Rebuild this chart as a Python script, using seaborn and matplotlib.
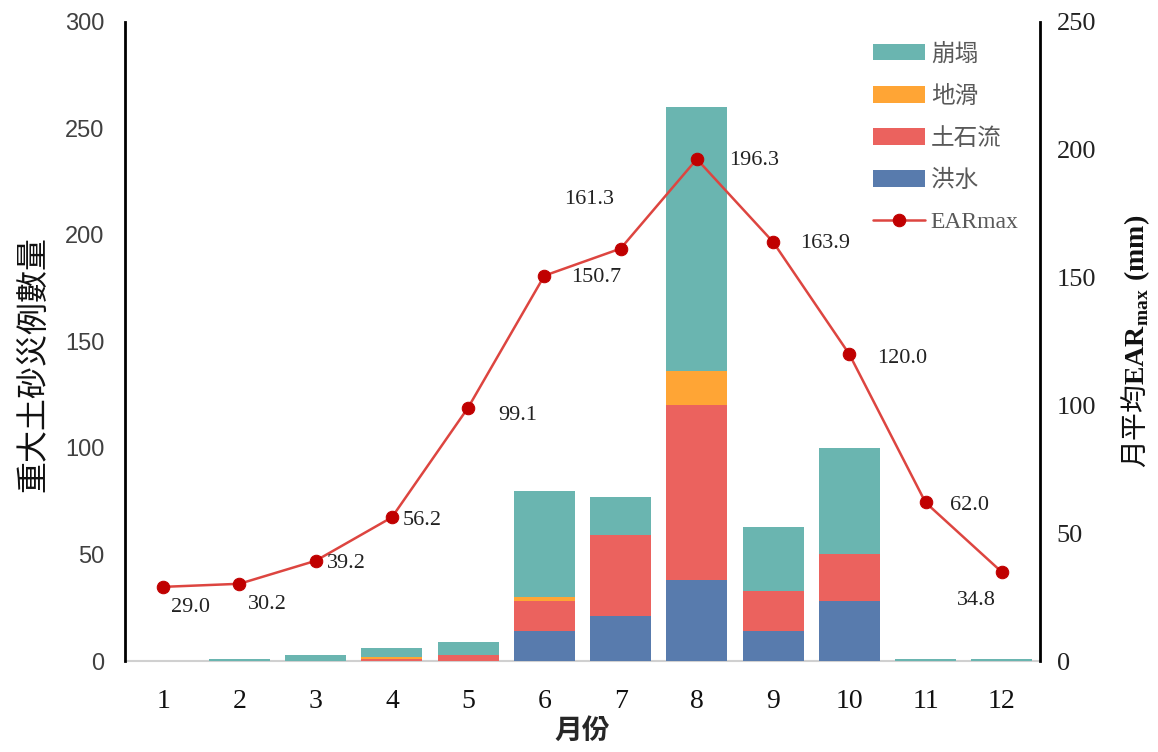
import matplotlib
matplotlib.use('Agg')
import matplotlib.pyplot as plt
import seaborn as sns
import pandas as pd
import numpy as np

# data
months = ['1', '2', '3', '4', '5', '6', '7', '8', '9', '10', '11', '12']
flood = [0, 0, 0, 0, 0, 14, 21, 38, 14, 28, 0, 0]        # 洪水
debris = [0, 0, 0, 1, 3, 14, 38, 82, 19, 22, 0, 0]       # 土石流
landslide = [0, 0, 0, 1, 0, 2, 0, 16, 0, 0, 0, 0]        # 地滑
collapse = [0, 1, 3, 4, 6, 50, 18, 124, 30, 50, 1, 1]    # 崩塌
ear_max = [29.0, 30.2, 39.2, 56.2, 99.1, 150.7, 161.3, 196.3, 163.9, 120.0, 62.0, 34.8]

# label offsets in pixels (dx, dy) for the EARmax values
lbl_off = [(27, -21), (28, -21), (31, -3), (30, -3), (50, -8), (52, -2),
           (-31, 49), (57, -1), (52, -2), (53, -4), (44, -3), (-25, -28)]

c_col = '#6AB5B0'
c_land = '#FFA535'
c_deb = '#EB625E'
c_flood = '#587BAD'
c_line = '#DD4540'
c_mark = '#C00000'

sns.set_style('white')
plt.rcParams['font.family'] = ['Liberation Serif', 'Noto Sans CJK TC', 'DejaVu Sans']
plt.rcParams['mathtext.fontset'] = 'custom'
plt.rcParams['mathtext.rm'] = 'Liberation Serif'
plt.rcParams['mathtext.bf'] = 'Liberation Serif:bold'

df = pd.DataFrame({'month': months, 'flood': flood, 'debris': debris,
                   'landslide': landslide, 'collapse': collapse})
df['l1'] = df['flood']
df['l2'] = df['l1'] + df['debris']
df['l3'] = df['l2'] + df['landslide']
df['l4'] = df['l3'] + df['collapse']

fig = plt.figure(figsize=(11.58, 7.52), dpi=100)
ax = fig.add_axes([0.108, 0.121, 0.790, 0.850])

# stacked bars: draw cumulative totals from the top layer down
for col, color, name in [('l4', c_col, '崩塌'), ('l3', c_land, '地滑'),
                         ('l2', c_deb, '土石流'), ('l1', c_flood, '洪水')]:
    sns.barplot(data=df, x='month', y=col, color=color, ax=ax, width=0.8,
                linewidth=0, label=name, saturation=1)
for p in ax.patches:
    p.set_zorder(3)

ax.set_ylim(0, 300)
ax.set_xlim(-0.5, 11.5)
ax.set_yticks(range(0, 301, 50))
ax.tick_params(axis='x', labelsize=20, length=0, colors='#111111', pad=20)
ax.tick_params(axis='y', labelsize=17, length=0, colors='#404040', pad=15)
for lab in ax.get_xticklabels():
    lab.set_family('Liberation Serif')
for lab in ax.get_yticklabels():
    lab.set_family('Liberation Sans')
ax.set_xlabel('月份', fontsize=20, fontweight='bold', family='Noto Sans CJK TC', labelpad=2)
ax.set_ylabel('重大土砂災例數量', fontsize=23, family='Noto Sans CJK TC', color='#111111')
ax.yaxis.set_label_coords(-0.083, 0.465)

ax.spines['top'].set_visible(False)
ax.spines['left'].set_color('black')
ax.spines['left'].set_linewidth(2)
ax.spines['right'].set_visible(False)
ax.spines['bottom'].set_color('#d0d0d0')
ax.spines['bottom'].set_linewidth(1.5)
ax.spines['bottom'].set_zorder(1)

ax2 = ax.twinx()
line_df = pd.DataFrame({'x': np.arange(len(months)), 'ear': ear_max})
sns.lineplot(data=line_df, x='x', y='ear', ax=ax2, color=c_line, linewidth=1.8,
             marker='o', markersize=9, markerfacecolor=c_mark, markeredgecolor=c_mark,
             label='EARmax')
ax2.set_ylim(0, 250)
ax2.set_yticks(range(0, 251, 50))
ax2.tick_params(axis='y', labelsize=19, length=0, colors='#222222', pad=12)
for lab in ax2.get_yticklabels():
    lab.set_family('Liberation Serif')
ax2.set_ylabel(r'月平均$\mathbf{EAR}_{\mathbf{max}}\mathbf{\ (mm)}$', fontsize=20,
               family='Noto Sans CJK TC', labelpad=16, rotation=90, color='#111111')
ax2.spines['top'].set_visible(False)
ax2.spines['left'].set_visible(False)
ax2.spines['bottom'].set_visible(False)
ax2.spines['right'].set_color('black')
ax2.spines['right'].set_linewidth(2)

for i, v in enumerate(ear_max):
    dx, dy = lbl_off[i]
    ax2.annotate(f'{v:.1f}', (i, v), xytext=(dx, dy), textcoords='offset pixels',
                 ha='center', va='center', fontsize=16, family='Liberation Serif',
                 color='#222222')

# combined legend
h1, l1 = ax.get_legend_handles_labels()
h2, l2 = ax2.get_legend_handles_labels()
if ax2.get_legend() is not None:
    ax2.get_legend().remove()
if ax.get_legend() is not None:
    ax.get_legend().remove()
leg = ax2.legend(h1 + h2, l1 + l2, loc='upper right', bbox_to_anchor=(1.0, 1.0),
                 frameon=False, labelcolor='#595959', handlelength=2.2,
                 labelspacing=0.85, handletextpad=0.25,
                 prop={'family': ['Liberation Serif', 'Noto Sans CJK TC'], 'size': 17})

fig.savefig('out.png', dpi=100)
